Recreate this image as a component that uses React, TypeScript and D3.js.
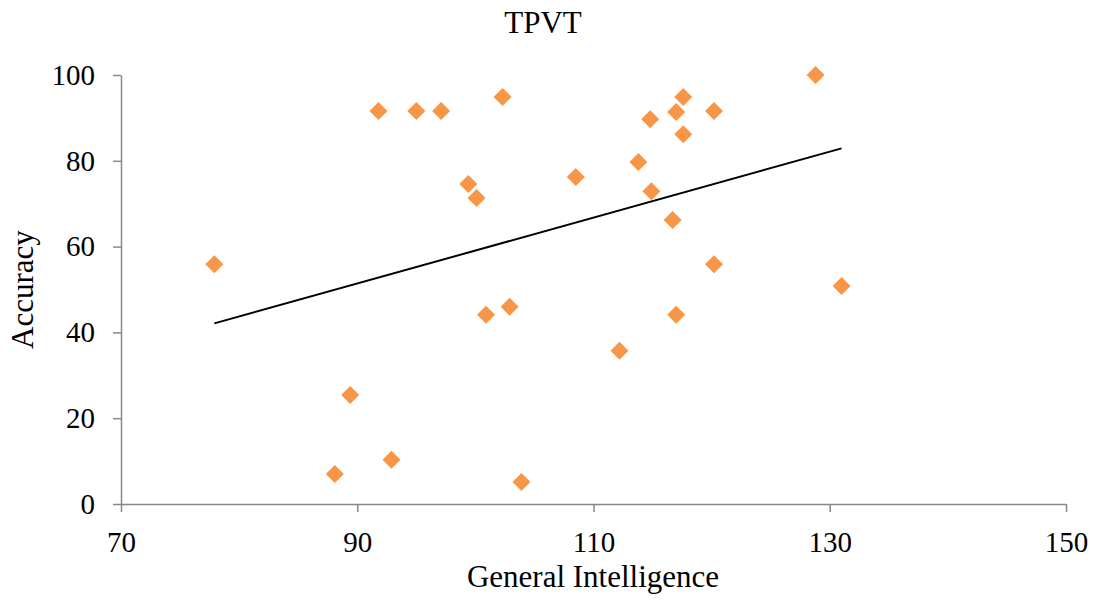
import React, { useEffect, useRef } from "react";
import * as d3 from "d3";

const intelligence = [77.9, 88.1, 89.4, 91.8, 92.9, 95.0, 97.1, 99.4, 100.1, 100.9, 102.3, 102.9, 103.9, 108.5, 112.2, 113.8, 114.8, 114.9, 116.7, 117.0, 117.0, 117.6, 117.6, 120.2, 120.2, 128.8, 131.0];
const accuracy = [55.9, 7.0, 25.4, 91.6, 10.3, 91.6, 91.6, 74.6, 71.3, 44.1, 94.9, 46.0, 5.1, 76.2, 35.7, 79.7, 89.7, 72.9, 66.2, 91.4, 44.1, 94.9, 86.2, 91.6, 55.9, 100, 50.8];
const trendX = [77.9, 131.0];
const trendY = [42.1, 82.9];
const xTicks = [70, 90, 110, 130, 150];
const yTicks = [0, 20, 40, 60, 80, 100];

const W = 1097, H = 604;
const M = { left: 121, right: 1066, top: 75, bottom: 504 };
const FONT = "'Liberation Serif', 'Times New Roman', serif";

export default function App() {
  const ref = useRef<SVGSVGElement>(null);
  useEffect(() => {
    const svg = d3.select(ref.current);
    svg.selectAll("*").remove();
    const x = d3.scaleLinear().domain([70, 150]).range([M.left, M.right]);
    const y = d3.scaleLinear().domain([0, 100]).range([M.bottom, M.top]);
    const axisColor = "#898989";

    const xa = svg.append("g").attr("transform", `translate(0,${M.bottom})`)
      .call(d3.axisBottom(x).tickValues(xTicks).tickSize(8).tickSizeOuter(0).tickPadding(19));
    const ya = svg.append("g").attr("transform", `translate(${M.left},0)`)
      .call(d3.axisLeft(y).tickValues(yTicks).tickSize(8).tickSizeOuter(0).tickPadding(18));
    [xa, ya].forEach((g) => {
      g.selectAll("path").attr("stroke", axisColor).attr("stroke-width", 1.5);
      g.selectAll("line").attr("stroke", axisColor).attr("stroke-width", 1.5);
      g.selectAll("text").attr("font-family", FONT).attr("font-size", 29).attr("fill", "#000");
    });

    const data = intelligence.map((v, i) => [v, accuracy[i]]);
    svg.append("g").selectAll("path").data(data).join("path")
      .attr("d", d3.symbol(d3.symbolSquare, 162)() as string)
      .attr("transform", (d) => `translate(${x(d[0])},${y(d[1])}) rotate(45)`)
      .attr("fill", "#F79646");

    const line = d3.line<number>().x((d) => x(d)).y((_, i) => y(trendY[i]));
    svg.append("path").attr("d", line(trendX) as string)
      .attr("stroke", "#000").attr("stroke-width", 2).attr("fill", "none");

    svg.append("text").attr("x", 543).attr("y", 33).attr("text-anchor", "middle")
      .attr("font-family", FONT).attr("font-size", 31).text("TPVT");
    svg.append("text").attr("x", 593).attr("y", 587).attr("text-anchor", "middle")
      .attr("font-family", FONT).attr("font-size", 31).text("General Intelligence");
    svg.append("text").attr("transform", `translate(33,${(M.top + M.bottom) / 2}) rotate(-90)`)
      .attr("text-anchor", "middle").attr("font-family", FONT).attr("font-size", 31).text("Accuracy");
  }, []);
  return (
    <svg ref={ref} width={W} height={H} style={{ position: "absolute", left: 0, top: 0, background: "#fff" }} />
  );
}
